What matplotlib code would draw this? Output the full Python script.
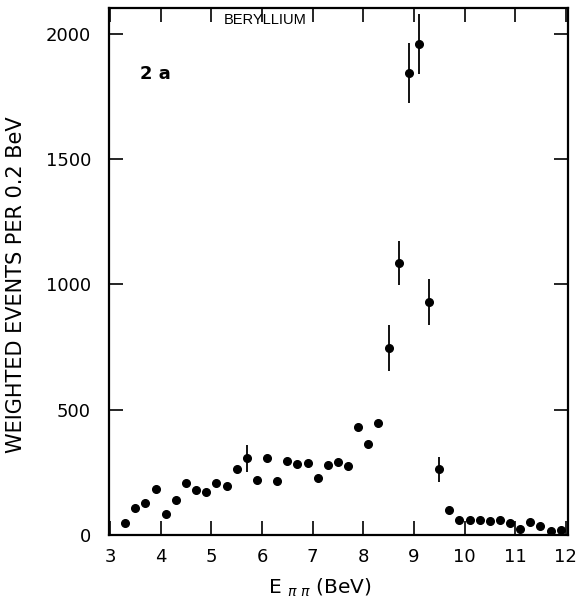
import matplotlib
matplotlib.use("Agg")
import matplotlib.pyplot as plt
import numpy as np

energy = [3.3, 3.5, 3.7, 3.9, 4.1, 4.3, 4.5, 4.7, 4.9, 5.1, 5.3, 5.5, 5.7, 5.9,
          6.1, 6.3, 6.5, 6.7, 6.9, 7.1, 7.3, 7.5, 7.7, 7.9, 8.1, 8.3, 8.5, 8.7,
          8.9, 9.1, 9.3, 9.5, 9.7, 9.9, 10.1, 10.3, 10.5, 10.7, 10.9, 11.1,
          11.3, 11.5, 11.7, 11.9]
events = [48, 108, 128, 184, 84, 140, 208, 180, 172, 208, 196, 264, 307, 220,
          307, 216, 296, 283, 287, 228, 280, 291, 275, 431, 363, 447, 746, 1086,
          1844, 1960, 930, 263, 100, 60, 60, 60, 56, 60, 48, 24,
          52, 36, 16, 20]
err_energy = [5.7, 8.5, 8.7, 8.9, 9.1, 9.3, 9.5]
err_events = [307, 746, 1086, 1844, 1960, 930, 263]
err_size = [54, 92, 88, 120, 118, 90, 50]

xticks = [3, 4, 5, 6, 7, 8, 9, 10, 11, 12]
yticks = [0, 500, 1000, 1500, 2000]

plt.rcParams['font.family'] = ['DejaVu Sans']
plt.rcParams['mathtext.fontset'] = 'dejavusans'

fig = plt.figure(figsize=(5.8, 6.07), dpi=100)
ax = fig.add_axes([0.188, 0.1186, 0.791, 0.8684])

ax.errorbar(err_energy, err_events, yerr=err_size, fmt='none', ecolor='black',
            elinewidth=1.3, capsize=0)
ax.plot(energy, events, 'o', color='black', markersize=5.5)

ax.set_xlim(2.98, 12.04)
ax.set_ylim(0, 2104)
ax.set_xticks(xticks)
ax.set_yticks(yticks)
ax.set_xticklabels([str(t) for t in xticks], fontsize=13)
ax.set_yticklabels([str(t) for t in yticks], fontsize=13)
ax.tick_params(direction='in', length=10, width=1.2, top=True, right=True)
ax.tick_params(axis='x', pad=9)
ax.tick_params(axis='y', pad=13)
for s in ax.spines.values():
    s.set_linewidth(1.6)

ax.set_xlabel(r'E $_{\pi\ \pi}$ (BeV)', fontsize=14.5)
ax.xaxis.set_label_coords(0.46, -0.08)
ax.set_ylabel('WEIGHTED EVENTS PER 0.2 BeV', fontsize=15)
ax.yaxis.set_label_coords(-0.18, 0.474)

ax.text(6.06, 2056, 'BERYLLIUM', fontsize=10.5, family='Liberation Sans',
        ha='center', va='center')
ax.text(3.9, 1840, '2 a', fontsize=13, fontweight='bold', ha='center', va='center')

fig.savefig('out.png', dpi=100)
